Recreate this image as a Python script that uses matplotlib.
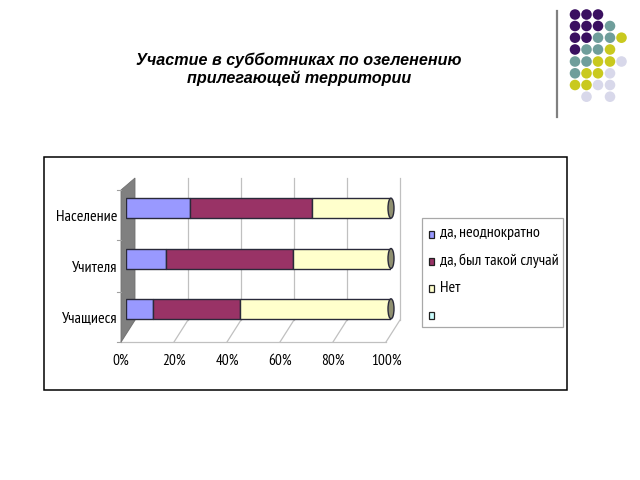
import matplotlib
matplotlib.use("Agg")
import matplotlib.pyplot as plt
from matplotlib.patches import Rectangle, Polygon, Ellipse
from matplotlib.lines import Line2D
import numpy as np

# ---------------- data ----------------
categories = ["Учащиеся", "Учителя", "Население"]
series_names = ["да, неоднократно", "да, был такой случай", "Нет", ""]
val_many = [10, 15, 24]
val_once = [33, 48, 46]
val_no = [57, 37, 30]
x_ticks = [0, 20, 40, 60, 80, 100]
x_tick_labels = ["0%", "20%", "40%", "60%", "80%", "100%"]
title_text = "Участие в субботниках по озеленению\nприлегающей территории"

# decorative dots (rows top->bottom, columns left->right); '' = empty
dot_rows = [
    ["P", "P", "P", "", ""],
    ["P", "P", "P", "T", ""],
    ["P", "P", "T", "T", "Y"],
    ["P", "T", "T", "Y", ""],
    ["T", "T", "Y", "Y", "L"],
    ["T", "Y", "Y", "L", ""],
    ["Y", "Y", "L", "L", ""],
    ["", "L", "", "L", ""],
]
dot_colors = {"P": "#3a1060", "T": "#6f9e9b", "Y": "#c9c91e", "L": "#d8d8ea"}

col_many = "#9999ff"
col_once = "#993366"
col_no = "#ffffcc"
col_empty = "#ccffff"
series_colors = [col_many, col_once, col_no, col_empty]

W, H = 640, 480
fig = plt.figure(figsize=(6.4, 4.8), dpi=100)
fig.patch.set_facecolor("white")

narrow = ["PT Sans Narrow", "DejaVu Sans"]

def fx(px):
    return px / W

def fy(py):
    return 1 - py / H

# ---------------- decoration (full-figure axes in pixel coords) ----------------
deco = fig.add_axes([0, 0, 1, 1])
deco.set_xlim(0, W)
deco.set_ylim(H, 0)
deco.axis("off")
col_x = [575, 586.5, 598, 610, 621.5]
row_y = [14.5, 26, 37.7, 49.5, 61.5, 73.3, 85, 96.7]
for r, row in enumerate(dot_rows):
    for c, key in enumerate(row):
        if key:
            deco.scatter([col_x[c]], [row_y[r]], s=58, color=dot_colors[key],
                         edgecolors="none", zorder=3)
deco.plot([557, 557], [11, 117], color="#808080", lw=1.6)

# chart frame
deco.add_patch(Rectangle((43.5, 156.5), 523, 233.5, fill=False,
                         edgecolor="#000000", lw=1.1))

# title
fig.text(fx(299), fy(69.5), title_text, ha="center", va="center",
         fontsize=11.6, fontweight="bold", style="italic",
         family=["Liberation Sans", "DejaVu Sans"], linespacing=1.2)

# ---------------- legend (drawn in pixel coords) ----------------
deco.add_patch(Rectangle((421.5, 217.5), 141.5, 109.5, fill=False,
                         edgecolor="#a8a8a8", lw=0.9, zorder=2))
leg_y = [234, 261, 288, 315]
for yy, name, colr in zip(leg_y, series_names, series_colors):
    deco.add_patch(Rectangle((428.5, yy - 3.5), 5.5, 7.5, facecolor=colr,
                             edgecolor="#202020", lw=0.9, zorder=3))
    deco.text(440, yy - 0.5, name, ha="left", va="center", fontsize=11.5,
              family=narrow, color="#000000")

# ---------------- main chart axes ----------------
ax_left, ax_right = 126, 391
ax_top, ax_bot = 183, 334
ax = fig.add_axes([fx(ax_left), fy(ax_bot), (ax_right - ax_left) / W,
                   (ax_bot - ax_top) / H])
ax.set_xlim(0, 100)
ax.set_ylim(-0.5, 2.5)
ax.axis("off")
sx = (ax_right - ax_left) / 100.0
sy = (ax_bot - ax_top) / 3.0

def P(v, c, dx, dy):
    """data point offset by pixel dx (right) / dy (down)."""
    return (v + dx / sx, c - dy / sy)

back_dx, back_top_dy, back_bot_dy = 9, -5, -14
front_dx, front_top_dy, front_bot_dy = -5, 7, 8

grid_col = "#c0c0c0"
# back gridlines + floor diagonals
for v, lab in zip(x_ticks, x_tick_labels):
    bt = P(v, 2.5, back_dx, back_top_dy)
    bb = P(v, -0.5, back_dx, back_bot_dy)
    fb = P(v, -0.5, front_dx, front_bot_dy)
    if v != 0:
        ax.add_line(Line2D([bt[0], bb[0]], [bt[1], bb[1]], color=grid_col,
                           lw=0.9, clip_on=False, zorder=1))
    ax.add_line(Line2D([bb[0], fb[0]], [bb[1], fb[1]], color=grid_col,
                       lw=0.9, clip_on=False, zorder=1))
    ax.text(fb[0], fb[1] - 19 / sy, lab,
            ha="center", va="center", fontsize=11, family=narrow,
            color="#000000", clip_on=False)

# front floor edge line
fl = P(0, -0.5, front_dx, front_bot_dy)
fr = P(100, -0.5, front_dx, front_bot_dy)
ax.add_line(Line2D([fl[0], fr[0]], [fl[1], fr[1]], color=grid_col, lw=0.9,
                   clip_on=False, zorder=1))

# left wall
wall = [P(0, -0.5, front_dx, front_bot_dy), P(0, 2.5, front_dx, front_top_dy),
        P(0, 2.5, back_dx, back_top_dy), P(0, -0.5, back_dx, back_bot_dy)]
ax.add_patch(Polygon(wall, closed=True, facecolor="#808080",
                     edgecolor="#707070", lw=0.6, clip_on=False, zorder=1.5))

# category boundary ticks on the left
for b in [-0.5, 0.5, 1.5, 2.5]:
    p = P(0, b, front_dx, front_bot_dy if b < 1 else front_top_dy)
    ax.add_line(Line2D([p[0] - 4 / sx, p[0]], [p[1], p[1]], color="#a0a0a0",
                       lw=0.8, clip_on=False))

# category labels
for i, name in enumerate(categories):
    p = P(0, i, front_dx - 4, 9)
    ax.text(p[0], p[1], name, ha="right", va="center", fontsize=11.5,
            family=narrow, color="#000000", clip_on=False)

# bars
y = np.arange(len(categories))
bar_h = 20 / sy
edge = "#2a2a3a"
left1 = np.array(val_many)
left2 = left1 + np.array(val_once)
ax.barh(y, val_many, left=0, height=bar_h, color=col_many, edgecolor=edge,
        lw=1.0, zorder=3)
ax.barh(y, val_once, left=left1, height=bar_h, color=col_once, edgecolor=edge,
        lw=1.0, zorder=3)
ax.barh(y, val_no, left=left2, height=bar_h, color=col_no, edgecolor=edge,
        lw=1.0, zorder=3)
# rounded right ends
for i in range(len(categories)):
    tot = val_many[i] + val_once[i] + val_no[i]
    ax.add_patch(Ellipse((tot, i), 6 / sx, bar_h, facecolor="#8f8f70",
                         edgecolor=edge, lw=1.0, zorder=4, clip_on=False))

fig.savefig("out.png", dpi=100)
